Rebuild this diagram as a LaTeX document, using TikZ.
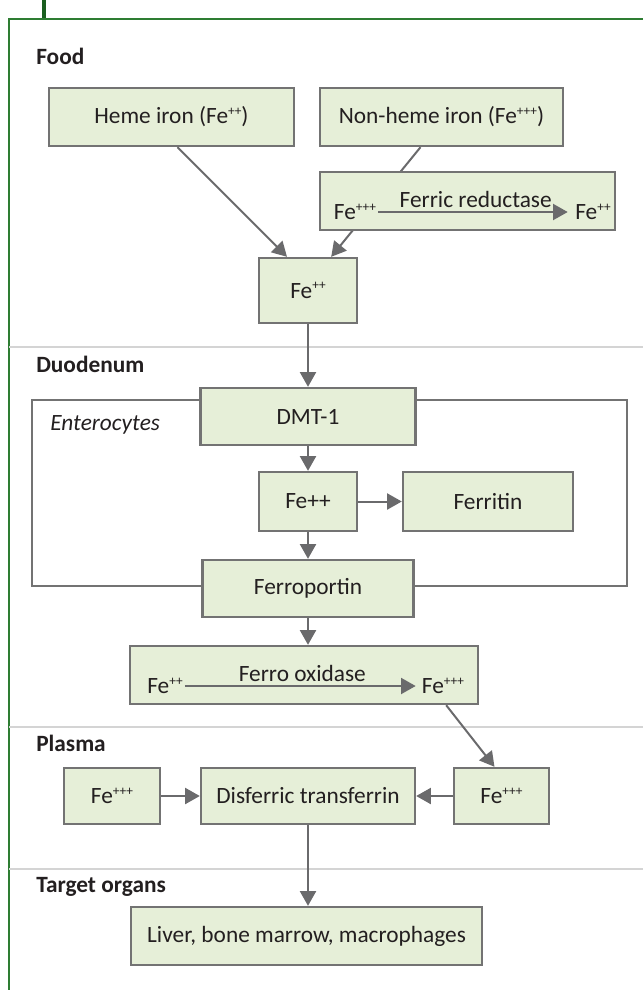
\documentclass[tikz,border=0pt]{standalone}
\usepackage{fontspec}
\setmainfont{Carlito}
\usetikzlibrary{arrows.meta,positioning,calc,backgrounds}

\definecolor{boxfill}{HTML}{E6EFD8}
\definecolor{boxline}{HTML}{737373}
\definecolor{arrgray}{HTML}{6A6A6C}
\definecolor{sepgray}{HTML}{D4D4D4}
\definecolor{framegreen}{HTML}{2E7D32}
\definecolor{tickgreen}{HTML}{1B5E20}
\definecolor{inkgray}{HTML}{231F20}

\newcommand{\plussup}[1]{\raisebox{0.75ex}{\fontsize{10}{10}\selectfont #1}}
\newcommand{\feII}{Fe\plussup{++}}
\newcommand{\feIII}{Fe\plussup{+++}}

\begin{document}
\begin{tikzpicture}[x=0.75pt, y={(0pt,-0.75pt)}, font=\fontsize{17.5}{20}\selectfont, text=inkgray,
  box/.style 2 args={draw=boxline, fill=boxfill, line width=1.8pt, inner sep=0pt, minimum width=#1*0.75pt, minimum height=#2*0.75pt},
  arr/.style={draw=arrgray, line width=1.5pt, -{Triangle[length=11pt,width=12pt]}},
  sep/.style={draw=sepgray, line width=1.1pt},
  head/.style={anchor=base west, inner sep=0pt, font=\fontsize{17.5}{20}\selectfont\bfseries},
  chem/.style={inner sep=1.5pt}]
\useasboundingbox (0,0) rectangle (643,990);

% frame and section rules
\draw[tickgreen, line width=2.4pt] (44,0) -- (44,19);
\draw[framegreen, line width=1.5pt] (9,990) -- (9,19) -- (643,19);
\foreach \y in {347,727,869}
  \draw[sep] (9,\y) -- (643,\y);

\node[head] (food) at (36,64) {Food};
\node[head] (duo) at (36,372) {Duodenum};
\node[head] (plasma) at (36,751) {Plasma};
\node[head] (target) at (36,892) {Target organs};

% food
\node[box={245}{58}] (heme) at (171.5,117) {Heme iron (\feII)};
\node[box={243}{58}] (nonheme) at (441.5,117) {Non-heme iron (\feIII)};
\node[box={295}{58}] (reduct) at (467.5,201) {};
\node[chem] (redin) at (355,212) {\feIII};
\node[chem] (redout) at (593,212) {\feII};
\draw[arr, shorten >=4pt] (redin) -- node[above=-1pt] {Ferric reductase} (redout);
\node[box={98}{65}] (feA) at (308,290.5) {\feII};

% duodenum
\node[box={215}{57}] (dmt) at (308,416.5) {DMT-1};
\node[box={98}{59}] (feB) at (308,501.5) {Fe++};
\node[box={170}{59}] (ferritin) at (488,501.5) {Ferritin};
\node[box={211}{57}] (fport) at (308,588.5) {Ferroportin};
\node[font=\fontsize{17.5}{20}\selectfont\itshape, anchor=base west, inner sep=0pt] (entero) at (50,430) {Enterocytes};
\node[box={348}{58}] (oxid) at (304,675) {};
\node[chem] (oxin) at (165,686) {\feII};
\node[chem] (oxout) at (443,686) {\feIII};
\draw[arr, shorten >=3pt] (oxin) -- node[above=-1pt] {Ferro oxidase} (oxout);

% plasma
\node[box={96}{56}] (feL) at (112,796) {\feIII};
\node[box={214}{56}] (transf) at (308,796) {Disferric transferrin};
\node[box={95}{56}] (feR) at (501.5,796) {\feIII};

% target organs
\node[box={351}{58}] (organs) at (306.5,936) {Liver, bone marrow, macrophages};

\begin{scope}[on background layer]
  \draw[boxline, line width=1.8pt] (32,400) rectangle (627,586);
  \draw[arr] ($(nonheme.south)+(-21,0)$) -- ($(feA.north east)+(-27,0)$);
\end{scope}

\draw[arr] ($(heme.south)+(6,0)$) -- ($(feA.north)+(-21,0)$);
\foreach \a/\b in {feA/dmt, dmt/feB, feB/fport, feB/ferritin, feL/transf, feR/transf}
  \draw[arr] (\a) -- (\b);
\draw[arr] (fport.south) -- (fport.south |- oxid.north);
\draw[arr] ($(oxid.south east)+(-33,0)$) -- ($(feR.north)+(-7,0)$);
\draw[arr] (transf.south) -- (transf.south |- organs.north);
\end{tikzpicture}
\end{document}
